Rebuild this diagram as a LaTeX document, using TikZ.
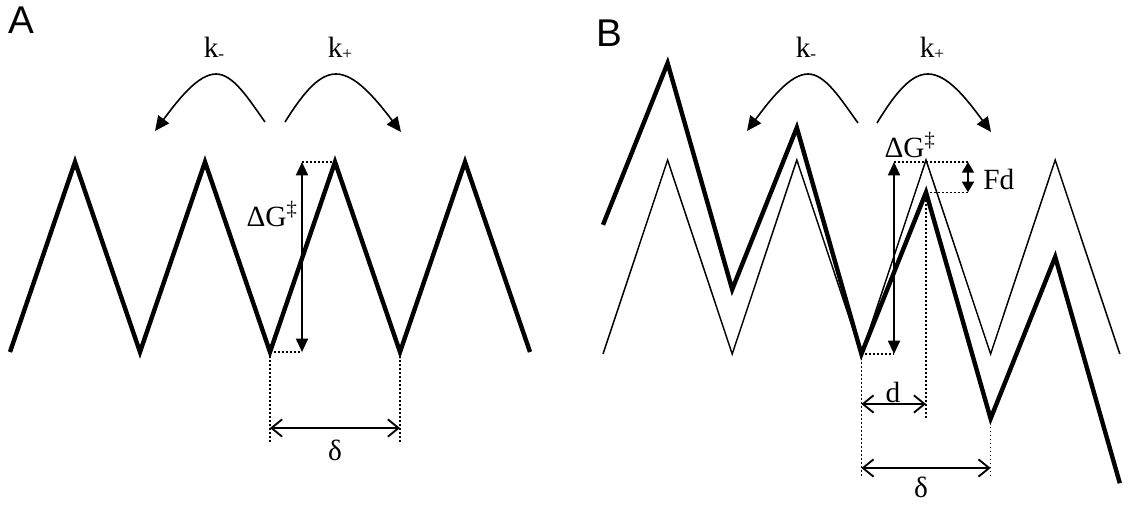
\documentclass[tikz,border=0pt]{standalone}
\usepackage{fontspec}
\setmainfont{Liberation Serif}
\newfontfamily\panelfont{Liberation Sans}
\usetikzlibrary{arrows.meta}
\newcommand{\ksub}[1]{k{\fontsize{13pt}{13pt}\selectfont\raisebox{-1.5pt}{#1}}}
\begin{document}
\begin{tikzpicture}[x=0.75pt,y=-0.75pt,
  zig/.style={line width=3.3pt, line join=miter},
  thinzig/.style={line width=1.1pt, line join=miter},
  dimarrow/.style={line width=1.4pt, {Triangle[length=10pt,width=9pt]}-{Triangle[length=10pt,width=9pt]}},
  fdarrow/.style={line width=1.4pt, {Triangle[length=8pt,width=9pt]}-{Triangle[length=8pt,width=9pt]}},
  spanarrow/.style={line width=1.4pt, {Straight Barb[length=8pt,width=13pt,line width=1.4pt]}-{Straight Barb[length=8pt,width=13pt,line width=1.4pt]}},
  rate/.style={line width=1.2pt, -{Triangle[length=11pt,width=10pt]}},
  dots/.style={line width=1.2pt, dash pattern=on 1.2pt off 1.8pt},
  lbl/.style={font=\fontsize{22pt}{24pt}\selectfont, inner sep=0pt},
  panel/.style={font=\panelfont\fontsize{29pt}{30pt}\selectfont, inner sep=0pt}
]
\useasboundingbox (0,0) rectangle (1123,504);

% ---------- Panel A ----------
\node[panel] (A) at (21,20) {A};
\coordinate (a0) at (10,352);
\coordinate (a1) at (75,162);
\coordinate (a2) at (140,352);
\coordinate (a3) at (205,162);
\coordinate (a4) at (270,352);
\coordinate (a5) at (335,162);
\coordinate (a6) at (400,352);
\coordinate (a7) at (465,162);
\coordinate (a8) at (530,352);
\draw[zig] (a0) -- (a1) -- (a2) -- (a3) -- (a4) -- (a5) -- (a6) -- (a7) -- (a8);

% rate arrows A
\coordinate (kmA1) at (265,122);
\coordinate (kmA2) at (155,131);
\coordinate (kpA1) at (285,122);
\coordinate (kpA2) at (401,132);
\draw[rate] (kmA1) .. controls (248,98) and (233,74) .. (216,74) .. controls (198,74) and (178,100) .. (kmA2);
\draw[rate] (kpA1) .. controls (305,90) and (320,74) .. (336,74) .. controls (355,74) and (375,98) .. (kpA2);
\node[lbl] (kmA) at (214,48) {\ksub{-}};
\node[lbl] (kpA) at (340,48) {\ksub{+}};

% barrier height A
\coordinate (gA1) at (302,352);
\coordinate (gA2) at (302,162);
\draw[dimarrow] (gA1) -- (gA2);
\draw[dots] (a4) -- (gA1);
\draw[dots] (gA2) -- (a5);
\node[lbl] (dGA) at (272,214) {ΔG\textsuperscript{‡}};

% period A
\coordinate (pA1) at (270,442);
\coordinate (pA2) at (400,442);
\coordinate (sA1) at (270,428);
\coordinate (sA2) at (400,428);
\draw[dots] (a4) -- (pA1);
\draw[dots] (a6) -- (pA2);
\draw[spanarrow] (sA1) -- (sA2);
\node[lbl] (deltaA) at (335,450) {δ};

% ---------- Panel B ----------
\node[panel] (B) at (609,33) {B};
% unbiased landscape
\coordinate (b0) at (603,354);
\coordinate (b1) at (667.6,160);
\coordinate (b2) at (732.2,354);
\coordinate (b3) at (796.8,160);
\coordinate (b4) at (861.4,354);
\coordinate (b5) at (926,160);
\coordinate (b6) at (990.6,354);
\coordinate (b7) at (1055.2,160);
\coordinate (b8) at (1119.8,354);
\draw[thinzig] (b0) -- (b1) -- (b2) -- (b3) -- (b4) -- (b5) -- (b6) -- (b7) -- (b8);
% tilted landscape
\coordinate (c0) at (603,224.8);
\coordinate (c1) at (667.6,63.1);
\coordinate (c2) at (732.2,289.4);
\coordinate (c3) at (796.8,127.7);
\coordinate (c4) at (861.4,354);
\coordinate (c5) at (926,192.3);
\coordinate (c6) at (990.6,418.6);
\coordinate (c7) at (1055.2,256.9);
\coordinate (c8) at (1119.8,483.2);
\draw[zig] (c0) -- (c1) -- (c2) -- (c3) -- (c4) -- (c5) -- (c6) -- (c7) -- (c8);

% rate arrows B
\coordinate (kmB1) at (858,123);
\coordinate (kmB2) at (747,131);
\coordinate (kpB1) at (877,123);
\coordinate (kpB2) at (991,132);
\draw[rate] (kmB1) .. controls (840,98) and (825,74) .. (808,74) .. controls (790,74) and (770,100) .. (kmB2);
\draw[rate] (kpB1) .. controls (897,90) and (912,74) .. (928,74) .. controls (947,74) and (966,98) .. (kpB2);
\node[lbl] (kmB) at (806,48) {\ksub{-}};
\node[lbl] (kpB) at (932,48) {\ksub{+}};

% barrier height B
\coordinate (gB1) at (894,354);
\coordinate (gB2) at (894,162);
\draw[dimarrow] (gB1) -- (gB2);
\draw[dots] (b4) -- (gB1);
\coordinate (fT) at (968,162);
\coordinate (fB) at (968,192.3);
\draw[dots] (gB2) -- (fT);
\draw[dots] (c5) -- (fB);
\draw[fdarrow] (fT) -- (fB);
\node[lbl] (dGB) at (910,145) {ΔG\textsuperscript{‡}};
\node[lbl, anchor=west] (Fd) at (983,179) {Fd};

% distance to barrier d
\coordinate (dv1) at (926,418);
\coordinate (dv2) at (861.4,478);
\draw[dots] (c5) -- (dv1);
\draw[dots] (c4) -- (dv2);
\coordinate (dA1) at (861.4,404);
\coordinate (dA2) at (926,404);
\draw[spanarrow] (dA1) -- (dA2);
\node[lbl] (dlab) at (893,392) {d};

% period B
\coordinate (pB2) at (990.6,478);
\draw[dots] (c6) -- (pB2);
\coordinate (sB1) at (861.4,468);
\coordinate (sB2) at (990.6,468);
\draw[spanarrow] (sB1) -- (sB2);
\node[lbl] (deltaB) at (921,487) {δ};
\end{tikzpicture}
\end{document}
